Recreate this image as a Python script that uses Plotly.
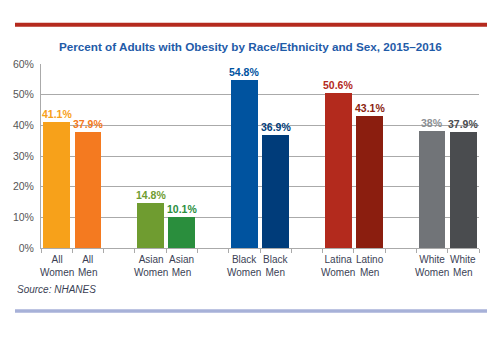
import plotly.graph_objects as go

# Data: obesity prevalence (%) among adults, 2015–2016
groups = ["All", "Asian", "Black", "Latina/Latino", "White"]
line1 = ["All", "All", "Asian", "Asian", "Black", "Black", "Latina", "Latino", "White", "White"]
line2 = ["Women", "Men", "Women", "Men", "Women", "Men", "Women", "Men", "Women", "Men"]
values = [41.1, 37.9, 14.8, 10.1, 54.8, 36.9, 50.6, 43.1, 38.0, 37.9]
value_labels = ["41.1%", "37.9%", "14.8%", "10.1%", "54.8%", "36.9%", "50.6%", "43.1%", "38%", "37.9%"]
bar_colors = ["#F7A11A", "#F47A20", "#6F9C30", "#2A8E3D", "#00539F", "#003C7A",
              "#B32A1D", "#8B1E0F", "#717478", "#4A4C4F"]
label_colors = ["#F7A11A", "#F47A20", "#6F9C30", "#2A8E3D", "#00539F", "#003C7A",
                "#B32A1D", "#8B1E0F", "#8C8F93", "#4A4C4F"]
y_ticks = [0, 10, 20, 30, 40, 50, 60]

# Each group takes two slots followed by one empty slot
slot_pos = []
for g in range(len(groups)):
    slot_pos += [3 * g, 3 * g + 1]
n_slots = 3 * len(groups) - 1

font = "Liberation Sans, Arial, sans-serif"

fig = go.Figure()
fig.add_trace(go.Bar(
    x=slot_pos, y=values, width=0.85,
    marker=dict(color=bar_colors, line=dict(width=0)),
    hoverinfo="skip",
))

annotations = []
# value labels above bars
for x, v, t, c in zip(slot_pos, values, value_labels, label_colors):
    annotations.append(dict(
        x=x, y=v, xref="x", yref="y", yanchor="bottom", yshift=0,
        text=f"<b>{t}</b>", showarrow=False,
        font=dict(family=font, size=10.5, color=c),
    ))
# category labels under bars
for x, a, b in zip(slot_pos, line1, line2):
    annotations.append(dict(
        x=x, y=0, xref="x", yref="y", yanchor="top", yshift=-4,
        text=f"{a}<br>{b}", showarrow=False,
        font=dict(family=font, size=10, color="#3b3f55"),
    ))

W, H = 499, 340
L, R, T, B = 41, 20, 64, 92
pw, ph = W - L - R, H - T - B

def px_x(x):
    return (x - L) / pw

def px_y(y):
    return (H - B - y) / ph

annotations.append(dict(
    x=px_x(250.5), y=px_y(46.5), xref="paper", yref="paper", yanchor="middle",
    text="<b>Percent of Adults with Obesity by Race/Ethnicity and Sex, 2015–2016</b>",
    showarrow=False, font=dict(family=font, size=11.7, color="#1f5ba8"),
))
annotations.append(dict(
    x=px_x(15), y=px_y(289), xref="paper", yref="paper", xanchor="left", yanchor="middle",
    text="<i>Source: NHANES</i>", showarrow=False,
    font=dict(family=font, size=10, color="#3b3f55"),
))

shapes = [
    # top red rule
    dict(type="line", xref="paper", yref="paper",
         x0=px_x(15), x1=px_x(487), y0=px_y(24.7), y1=px_y(24.7),
         line=dict(color="#B52A1E", width=4)),
    # bottom rule
    dict(type="line", xref="paper", yref="paper",
         x0=px_x(15), x1=px_x(487), y0=px_y(311), y1=px_y(311),
         line=dict(color="#A7B1D8", width=3.5)),
]

fig.update_layout(
    width=W, height=H,
    margin=dict(l=L, r=R, t=T, b=B),
    paper_bgcolor="white", plot_bgcolor="white",
    showlegend=False, bargap=0,
    annotations=annotations, shapes=shapes,
    xaxis=dict(
        range=[-0.5, n_slots - 0.5],
        tickvals=[i - 0.5 for i in range(n_slots + 1)],
        showticklabels=False, ticks="outside", ticklen=4, tickcolor="#aaaaaa",
        showgrid=False, zeroline=False,
        showline=True, linecolor="#aaaaaa", linewidth=1,
    ),
    yaxis=dict(
        range=[0, 60], tickvals=y_ticks, ticktext=[f"{v}%" for v in y_ticks],
        tickfont=dict(family=font, size=10.5, color="#555555"),
        showgrid=True, gridcolor="#aaaaaa", gridwidth=1,
        zeroline=False, showline=True, linecolor="#aaaaaa", linewidth=1,
        ticks="", ticklabelstandoff=4,
    ),
)

fig.write_html("out.html")
